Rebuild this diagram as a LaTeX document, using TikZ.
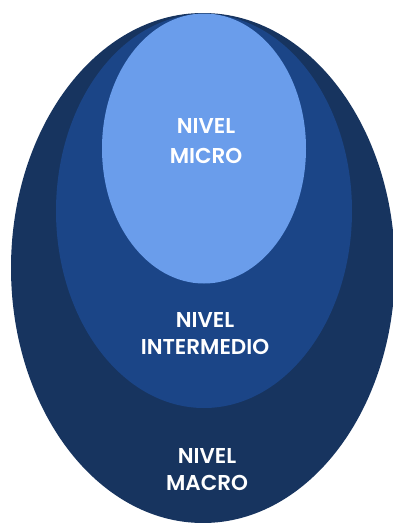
\documentclass[tikz,border=0pt]{standalone}
\usepackage{fontspec}
\newfontfamily\labfont{Poppins SemiBold}
\definecolor{outerc}{HTML}{17345F}
\definecolor{midc}{HTML}{1B4587}
\definecolor{innerc}{HTML}{6A9DEB}
\begin{document}
\begin{tikzpicture}[x=1pt,y=-1pt,
  lab/.style={text=white,font=\labfont\fontsize{21.5}{25}\selectfont,anchor=base,inner sep=0pt}]
\useasboundingbox (0,0) rectangle (393,523);
\fill[outerc] (203,268) ellipse [x radius=192, y radius=255];
\fill[midc] (204,211) ellipse [x radius=148, y radius=197];
\fill[innerc] (204,148.5) ellipse [x radius=102, y radius=135];
\node[lab] (micro1) at (206,133) {NIVEL};
\node[lab] (micro2) at (206,163) {MICRO};
\node[lab] (mid1) at (205,327) {NIVEL};
\node[lab] (mid2) at (205,354) {INTERMEDIO};
\node[lab] (mac1) at (207,463) {NIVEL};
\node[lab] (mac2) at (207,490) {MACRO};
\end{tikzpicture}
\end{document}
